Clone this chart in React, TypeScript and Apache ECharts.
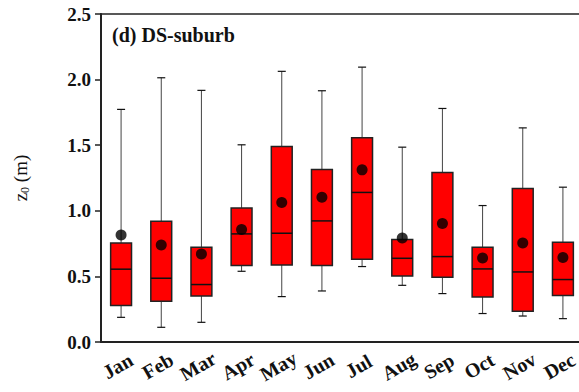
import React, { useEffect, useRef } from "react";
import * as echarts from "echarts";

const months = ["Jan", "Feb", "Mar", "Apr", "May", "Jun", "Jul", "Aug", "Sep", "Oct", "Nov", "Dec"];
// five-number summaries of z0 (m) per month
const whiskerLow = [0.188, 0.112, 0.15, 0.539, 0.346, 0.389, 0.575, 0.432, 0.369, 0.217, 0.198, 0.178];
const quartile1 = [0.278, 0.31, 0.351, 0.583, 0.587, 0.583, 0.631, 0.503, 0.493, 0.343, 0.234, 0.354];
const medians = [0.555, 0.486, 0.438, 0.824, 0.829, 0.923, 1.14, 0.638, 0.651, 0.557, 0.534, 0.476];
const quartile3 = [0.755, 0.921, 0.722, 1.022, 1.49, 1.315, 1.556, 0.781, 1.292, 0.722, 1.17, 0.76];
const whiskerHigh = [1.773, 2.014, 1.918, 1.503, 2.063, 1.915, 2.095, 1.485, 1.78, 1.04, 1.632, 1.18];
const means = [0.816, 0.74, 0.671, 0.857, 1.063, 1.104, 1.312, 0.793, 0.903, 0.641, 0.755, 0.644];
const yTicks = [0, 0.5, 1.0, 1.5, 2.0, 2.5];

const SERIF = "'Liberation Serif', 'Times New Roman', serif";

export default function App() {
  const ref = useRef<HTMLDivElement>(null);

  useEffect(() => {
    if (!ref.current) return;
    const chart = echarts.init(ref.current, null, { renderer: "svg" });

    const boxData = months.map((_, i) => [i, whiskerLow[i], quartile1[i], medians[i], quartile3[i], whiskerHigh[i]]);

    const renderBox = (params: any, api: any) => {
      const i = api.value(0);
      const lo = api.coord([i, api.value(1)]);
      const q1 = api.coord([i, api.value(2)]);
      const md = api.coord([i, api.value(3)]);
      const q3 = api.coord([i, api.value(4)]);
      const hi = api.coord([i, api.value(5)]);
      const band = api.size([1, 0])[0];
      const bw = band * 0.52;
      const cw = band * 0.2;
      const x = lo[0];
      const whisker = { stroke: "#444", lineWidth: 1 };
      const cap = { stroke: "#111", lineWidth: 1.2 };
      return {
        type: "group",
        children: [
          { type: "line", shape: { x1: x, y1: hi[1], x2: x, y2: q3[1] }, style: whisker },
          { type: "line", shape: { x1: x, y1: q1[1], x2: x, y2: lo[1] }, style: whisker },
          { type: "line", shape: { x1: x - cw / 2, y1: hi[1], x2: x + cw / 2, y2: hi[1] }, style: cap },
          { type: "line", shape: { x1: x - cw / 2, y1: lo[1], x2: x + cw / 2, y2: lo[1] }, style: cap },
          {
            type: "rect",
            shape: { x: x - bw / 2, y: q3[1], width: bw, height: q1[1] - q3[1] },
            style: { fill: "#ff0000", stroke: "#222", lineWidth: 1.5 },
          },
          { type: "line", shape: { x1: x - bw / 2, y1: md[1], x2: x + bw / 2, y2: md[1] }, style: { stroke: "#111", lineWidth: 1.5 } },
        ],
      };
    };

    chart.setOption({
      animation: false,
      backgroundColor: "#ffffff",
      grid: {
        left: 101,
        right: 1,
        top: 14,
        bottom: 50,
        show: true,
        borderColor: "#222",
        borderWidth: 1.5,
        backgroundColor: "transparent",
      },
      title: {
        text: "(d) DS-suburb",
        left: 107,
        top: 20,
        textStyle: { fontFamily: SERIF, fontWeight: "bold", fontSize: 20, color: "#111" },
      },
      xAxis: {
        type: "category",
        data: months,
        boundaryGap: true,
        axisLine: { lineStyle: { color: "#222", width: 2 } },
        axisTick: { alignWithLabel: true, interval: 0, length: 5, lineStyle: { color: "#333", width: 1 } },
        axisLabel: {
          interval: 0,
          rotate: 30,
          align: "center",
          verticalAlign: "middle",
          margin: 22,
          padding: [0, 8, 0, 0],
          fontFamily: SERIF,
          fontWeight: "bold",
          fontSize: 20,
          color: "#111",
        },
        splitLine: { show: false },
      },
      yAxis: {
        type: "value",
        min: yTicks[0],
        max: yTicks[yTicks.length - 1],
        interval: 0.5,
        name: "{z|z}{s|0}{z| (m)}",
        nameLocation: "middle",
        nameRotate: 90,
        nameGap: 70,
        nameTextStyle: {
          rich: {
            z: { fontFamily: SERIF, fontSize: 19, color: "#111", lineHeight: 22, verticalAlign: "middle" },
            s: { fontFamily: SERIF, fontSize: 12, color: "#111", lineHeight: 22, verticalAlign: "bottom", padding: [8, 0, 0, 0] },
          },
        },
        axisLine: { show: true, lineStyle: { color: "#222", width: 2 } },
        axisTick: { show: true, length: 6, lineStyle: { color: "#222", width: 1.5 } },
        axisLabel: {
          margin: 10,
          fontFamily: SERIF,
          fontWeight: "bold",
          fontSize: 19,
          color: "#111",
          formatter: (v: number) => v.toFixed(1),
        },
        splitLine: { show: false },
      },
      series: [
        {
          type: "custom",
          renderItem: renderBox,
          data: boxData,
          encode: { x: 0, y: [1, 2, 3, 4, 5] },
          z: 2,
        },
        {
          type: "scatter",
          data: means.map((m, i) => [i, m]),
          symbol: "circle",
          symbolSize: 11,
          itemStyle: { color: "#000" },
          z: 3,
        },
      ],
    });

    return () => chart.dispose();
  }, []);

  return (
    <div
      ref={ref}
      style={{ position: "fixed", left: 0, top: 0, width: 584, height: 392, background: "#fff" }}
    />
  );
}
